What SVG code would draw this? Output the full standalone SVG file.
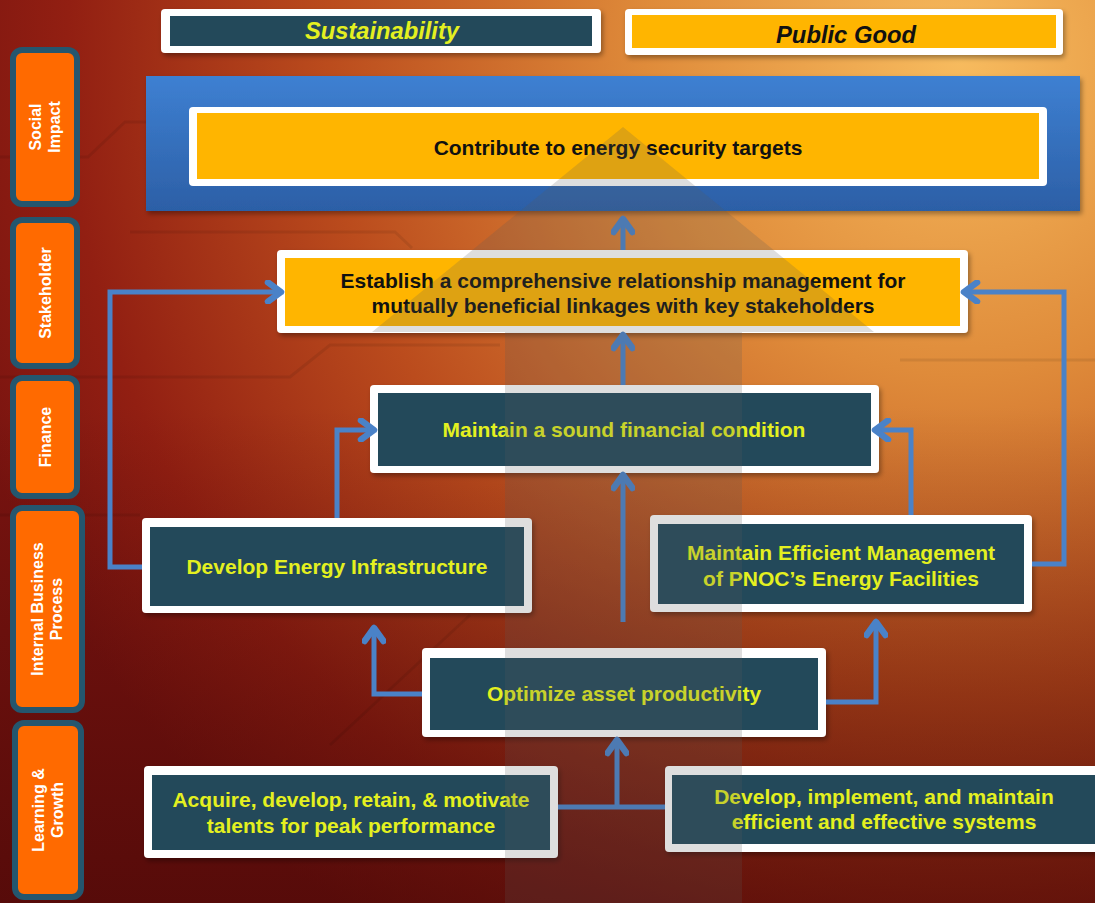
<svg xmlns="http://www.w3.org/2000/svg" width="1095" height="903" viewBox="0 0 1095 903">
<defs>
<radialGradient id="bg" cx="960" cy="60" r="1050" gradientUnits="userSpaceOnUse">
<stop offset="0" stop-color="#f7bb5e"/>
<stop offset="0.3" stop-color="#df8b3a"/>
<stop offset="0.6" stop-color="#bb4c1d"/>
<stop offset="0.85" stop-color="#921f12"/>
<stop offset="1" stop-color="#7a1410"/>
</radialGradient>
<linearGradient id="dark" x1="0" y1="0" x2="0" y2="1">
<stop offset="0.45" stop-color="#3a0404" stop-opacity="0"/>
<stop offset="1" stop-color="#3a0404" stop-opacity="0.55"/>
</linearGradient>
<linearGradient id="blue" x1="0" y1="0" x2="0" y2="1">
<stop offset="0" stop-color="#3e80d2"/>
<stop offset="1" stop-color="#2c5fa6"/>
</linearGradient>
<filter id="sh" x="-5%" y="-10%" width="110%" height="130%">
<feDropShadow dx="2" dy="3" stdDeviation="2.5" flood-color="#000" flood-opacity="0.35"/>
</filter>
<marker id="ah" viewBox="0 0 24 24" refX="17" refY="12" markerWidth="24" markerHeight="24" markerUnits="userSpaceOnUse" orient="auto">
<path d="M4,2.5 L17,12 L4,21.5" fill="none" stroke="#4a82c8" stroke-width="6.5" stroke-linecap="round" stroke-linejoin="round"/>
</marker>
<style>
.lbl{fill:#ff6a00;stroke:#24566e;stroke-width:6}
.lt{font-family:"Liberation Sans",Arial,sans-serif;font-weight:bold;font-size:16px;fill:#ffffff;text-anchor:middle}
.wb{fill:#ffffff}
.teal{fill:#23495a}
.yel{fill:#ffb500}
.ty{font-family:"Liberation Sans",Arial,sans-serif;font-weight:bold;font-size:21px;fill:#e4f020;text-anchor:middle}
.tb{font-family:"Liberation Sans",Arial,sans-serif;font-weight:bold;font-size:21px;fill:#111111;text-anchor:middle}
.top{font-family:"Liberation Sans",Arial,sans-serif;font-style:italic;font-weight:bold;font-size:24px;text-anchor:middle}
.con{fill:none;stroke:#4a82c8;stroke-width:5;stroke-linejoin:miter}
.deco{fill:none;stroke:#000;stroke-opacity:0.08;stroke-width:3}
</style>
</defs>
<rect x="0" y="0" width="1095" height="903" fill="url(#bg)"/>
<rect x="0" y="0" width="1095" height="903" fill="url(#dark)"/>
<g id="decor">
<path class="deco" d="M0,157 L88,157 L125,122 L146,122"/>
<path class="deco" d="M130,232 L395,232 L412,248"/>
<path class="deco" d="M0,377 L290,377 L330,345 L500,345"/>
<path class="deco" d="M0,515 L140,515"/>
<path class="deco" d="M330,745 L470,615"/>
<path class="deco" d="M900,360 L1095,360"/>
</g>
<g id="label-social-impact">
<rect class="lbl" x="13" y="50" width="64" height="154" rx="9"/>
<text class="lt" transform="translate(45,127) rotate(-90)"><tspan x="0" y="-4">Social</tspan><tspan x="0" y="15">Impact</tspan></text>
</g>
<g id="label-stakeholder">
<rect class="lbl" x="13" y="220" width="64" height="146" rx="9"/>
<text class="lt" transform="translate(45,293) rotate(-90)"><tspan x="0" y="6">Stakeholder</tspan></text>
</g>
<g id="label-finance">
<rect class="lbl" x="13" y="378" width="64" height="118" rx="9"/>
<text class="lt" transform="translate(45,437) rotate(-90)"><tspan x="0" y="6">Finance</tspan></text>
</g>
<g id="label-internal">
<rect class="lbl" x="13" y="508" width="69" height="202" rx="9"/>
<text class="lt" transform="translate(47,609) rotate(-90)"><tspan x="0" y="-4">Internal Business</tspan><tspan x="0" y="15">Process</tspan></text>
</g>
<g id="label-learning">
<rect class="lbl" x="15" y="723" width="66" height="174" rx="9"/>
<text class="lt" transform="translate(48,810) rotate(-90)"><tspan x="0" y="-4">Learning &amp;</tspan><tspan x="0" y="15">Growth</tspan></text>
</g>
<g id="sustainability">
<rect class="wb" x="161" y="9" width="440" height="44" rx="4" filter="url(#sh)"/>
<rect class="teal" x="170" y="16" width="422" height="30"/>
<text class="top" x="382" y="39" fill="#e4f020" textLength="154" lengthAdjust="spacingAndGlyphs">Sustainability</text>
</g>
<g id="public-good">
<rect class="wb" x="625" y="9" width="438" height="46" rx="4" filter="url(#sh)"/>
<rect class="yel" x="632" y="15" width="424" height="33"/>
<text class="top" x="846" y="43" fill="#111" textLength="140" lengthAdjust="spacingAndGlyphs">Public Good</text>
</g>
<g id="social-impact">
<rect x="146" y="76" width="934" height="135" fill="url(#blue)" filter="url(#sh)"/>
<rect class="wb" x="189" y="107" width="858" height="79" rx="4"/>
<rect class="yel" x="197" y="113" width="842" height="66"/>
<text class="tb" x="618" y="155" font-size="20">Contribute to energy security targets</text>
</g>
<g id="stakeholder-node">
<rect class="wb" x="277" y="250" width="691" height="83" rx="4" filter="url(#sh)"/>
<rect class="yel" x="285" y="258" width="675" height="68"/>
<text class="tb" x="623" y="288">Establish a comprehensive relationship management for</text>
<text class="tb" x="623" y="313">mutually beneficial linkages with key stakeholders</text>
</g>
<g id="finance-node">
<rect class="wb" x="370" y="385" width="509" height="88" rx="4" filter="url(#sh)"/>
<rect class="teal" x="378" y="393" width="493" height="73"/>
<text class="ty" x="624" y="437">Maintain a sound financial condition</text>
</g>
<g id="develop-infra">
<rect class="wb" x="142" y="518" width="390" height="95" rx="4" filter="url(#sh)"/>
<rect class="teal" x="150" y="527" width="374" height="79"/>
<text class="ty" x="337" y="574">Develop Energy Infrastructure</text>
</g>
<g id="maintain-facilities">
<rect class="wb" x="650" y="515" width="382" height="97" rx="4" filter="url(#sh)"/>
<rect class="teal" x="658" y="524" width="366" height="80"/>
<text class="ty" x="841" y="560">Maintain Efficient Management</text>
<text class="ty" x="841" y="586">of PNOC’s Energy Facilities</text>
</g>
<g id="optimize">
<rect class="wb" x="422" y="648" width="404" height="89" rx="4" filter="url(#sh)"/>
<rect class="teal" x="430" y="658" width="388" height="72"/>
<text class="ty" x="624" y="701">Optimize asset productivity</text>
</g>
<g id="talents">
<rect class="wb" x="144" y="766" width="414" height="92" rx="4" filter="url(#sh)"/>
<rect class="teal" x="152" y="775" width="398" height="75"/>
<text class="ty" x="351" y="807">Acquire, develop, retain, &amp; motivate</text>
<text class="ty" x="351" y="833">talents for peak performance</text>
</g>
<g id="systems">
<rect class="wb" x="665" y="766" width="440" height="86" rx="4" filter="url(#sh)"/>
<rect class="teal" x="672" y="775" width="430" height="69"/>
<text class="ty" x="884" y="804">Develop, implement, and maintain</text>
<text class="ty" x="884" y="829">efficient and effective systems</text>
</g>
<g id="connectors">
<path class="con" d="M623,250 L623,219" marker-end="url(#ah)"/>
<path class="con" d="M623,385 L623,335" marker-end="url(#ah)"/>
<path class="con" d="M623,622 L623,475" marker-end="url(#ah)"/>
<path class="con" d="M337,518 L337,430 L374,430" marker-end="url(#ah)"/>
<path class="con" d="M911,515 L911,430 L875,430" marker-end="url(#ah)"/>
<path class="con" d="M142,567 L110,567 L110,292 L281,292" marker-end="url(#ah)"/>
<path class="con" d="M1032,564 L1064,564 L1064,292 L964,292" marker-end="url(#ah)"/>
<path class="con" d="M422,694 L374,694 L374,628" marker-end="url(#ah)"/>
<path class="con" d="M826,702 L876,702 L876,622" marker-end="url(#ah)"/>
<path class="con" d="M558,807 L665,807"/>
<path class="con" d="M617,807 L617,740" marker-end="url(#ah)"/>
</g>
<g id="big-arrow">
<path d="M623,127 L874,332 L742,332 L742,903 L505,903 L505,332 L372,332 Z" fill="#5a5a5a" fill-opacity="0.2"/>
</g>
</svg>
